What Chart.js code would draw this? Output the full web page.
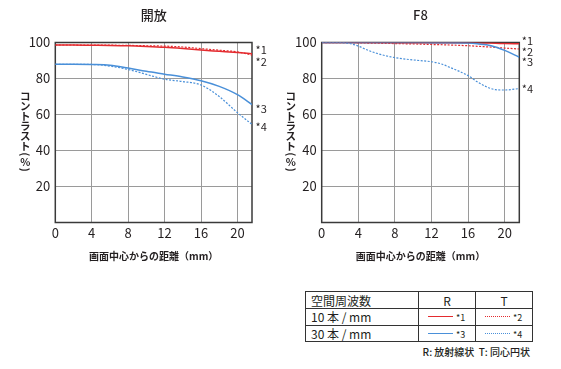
<!DOCTYPE html>
<html><head><meta charset="utf-8">
<script src="https://cdn.jsdelivr.net/npm/chart.js@4"></script>
<style>
body{margin:0;background:#fff;width:561px;height:369px;overflow:hidden;position:relative;font-family:'Noto Sans CJK JP','Noto Sans',sans-serif;color:#231f20}
canvas{position:absolute;top:0}
#c1{left:0}
#c2{left:280px}
#leg{position:absolute;left:305px;top:291px;display:grid;grid-template-columns:113px 57px 57px;grid-template-rows:17px 16.5px 16.5px;border-left:1px solid #333;border-top:1px solid #333;font-size:12px;color:#231f20}
#leg div{box-sizing:border-box;border-right:1px solid #333;border-bottom:1px solid #333;line-height:15px;white-space:nowrap;display:flex;align-items:center}
#leg .c1{padding-left:5px}
#leg .hc{justify-content:center}
#leg .sw{padding-left:9px}
.ln{display:inline-block;width:25px;height:0}
.rs{border-top:1.5px solid #e42b2f}
.rd{border-top:1.2px dotted #e42b2f}
.bs{border-top:1.5px solid #4a90d9}
.bd{border-top:1.2px dotted #4a90d9}
.sm{font-size:9px;margin-left:3px;line-height:9px;margin-top:2px}
#note{position:absolute;right:31px;top:345px;font-size:10px;line-height:14px;font-weight:500}
</style></head><body>
<canvas id="c1" width="280" height="266"></canvas>
<canvas id="c2" width="281" height="266"></canvas>
<div id="leg">
<div class="c1">空間周波数</div><div class="hc">R</div><div class="hc">T</div>
<div class="c1">10 本 / mm</div><div class="sw"><span class="ln rs"></span><span class="sm">*1</span></div><div class="sw"><span class="ln rd"></span><span class="sm">*2</span></div>
<div class="c1">30 本 / mm</div><div class="sw"><span class="ln bs"></span><span class="sm">*3</span></div><div class="sw"><span class="ln bd"></span><span class="sm">*4</span></div>
</div>
<div id="note">R: 放射線状&nbsp;&nbsp;T: 同心円状</div>
<script>
// ---- data ----
const xTicks = [0, 4, 8, 12, 16, 20];
const yTicks = [20, 40, 60, 80, 100];
const seriesLabels = ['*1', '*2', '*3', '*4'];
const chartTitles = ['開放', 'F8'];
const xTitle = '画面中心からの距離（mm）';
const yTitle = 'コントラスト(%)';

const xOpen = [0, 2, 4, 6, 8, 10, 12, 14, 16, 18, 20, 21.6];
const openR10 = [98.6, 98.6, 98.5, 98.4, 98.2, 97.8, 97.3, 96.6, 95.8, 95.1, 94.4, 93.8];
const openT10 = [98.6, 98.6, 98.5, 98.5, 98.4, 98.2, 98.0, 97.5, 96.6, 95.7, 94.8, 93.0];
const openR30 = [87.9, 87.9, 87.8, 87.4, 85.8, 84.0, 82.4, 80.8, 78.7, 75.6, 71.0, 65.5];
const openT30 = [87.9, 87.9, 87.8, 86.9, 85.0, 82.3, 79.6, 78.3, 76.4, 70.0, 61.0, 54.5];

const xF8 = [0, 2, 3, 4, 5, 6, 8, 10, 12, 13, 14, 16, 17, 18, 19, 20, 21.6];
const f8R10 = [100, 100, 100, 100, 100, 100, 99.9, 99.9, 99.9, 99.9, 99.9, 99.8, 99.8, 99.7, 99.6, 99.4, 99.3];
const f8T10 = [100, 99.9, 99.9, 99.8, 99.7, 99.6, 99.4, 99.2, 98.9, 98.8, 98.6, 98.2, 97.9, 97.6, 97.3, 96.9, 96.4];
const f8R30 = [100, 100, 100, 100, 100, 100, 100, 100, 99.9, 99.9, 99.9, 99.7, 99.3, 98.7, 97.5, 95.6, 91.8];
const f8T30 = [100, 100, 99.5, 98.0, 95.8, 94.0, 91.6, 90.3, 89.3, 88.2, 86.2, 81.6, 78.2, 75.4, 73.8, 73.6, 74.4];

// ---- drawing ----
const RED = '#e42b2f', BLUE = '#4a90d9', INK = '#231f20';
const FONT = "'Noto Sans CJK JP','Noto Sans',sans-serif";
const pts = (xs, ys) => xs.map((x, i) => ({x, y: ys[i]}));

const extras = {
  id: 'extras',
  beforeDatasetsDraw(chart) {
    const {ctx, chartArea: a} = chart;
    ctx.save();
    ctx.strokeStyle = '#3a3a3a';
    ctx.lineWidth = 1.5;
    ctx.strokeRect(a.left, a.top, a.right - a.left, a.bottom - a.top);
    ctx.restore();
  },
  afterDraw(chart, args, opts) {
    const {ctx, chartArea: a, scales} = chart;
    ctx.save();
    ctx.fillStyle = INK;
    // vertical y title (upright characters stacked top-to-bottom; brackets turned)
    ctx.font = 'bold 10.5px ' + FONT;
    ctx.textAlign = 'center';
    ctx.textBaseline = 'middle';
    const cx = a.left - opts.titleOffset;
    let y = a.top + 49;
    Array.from(yTitle).forEach(ch => {
      const turned = '（）()'.includes(ch);
      const adv = turned ? 5.5 : 10;
      const c = y + adv / 2;
      if (turned) {
        ctx.save(); ctx.translate(cx, c); ctx.rotate(Math.PI / 2); ctx.fillText(ch, 0, 0); ctx.restore();
      } else ctx.fillText(ch, cx, c);
      y += adv;
    });
    // series tags
    ctx.font = '11px ' + FONT;
    ctx.textAlign = 'left';
    seriesLabels.forEach((t, i) => {
      ctx.fillText(t, a.right + opts.tagGap, scales.y.getPixelForValue(opts.tagY[i]));
    });
    ctx.restore();
  }
};

function makeChart(id, title, xs, r10, t10, r30, t30, yWidth, padRight, extraOpts) {
  const line = (label, d, color, dotted, order) => ({
    label, data: pts(xs, d), borderColor: color,
    borderWidth: dotted ? 1.2 : 1.5, borderDash: dotted ? [2, 1.5] : [],
    pointRadius: 0, fill: false, tension: 0.4, cubicInterpolationMode: 'monotone', order
  });
  return new Chart(document.getElementById(id), {
    type: 'line',
    data: {datasets: [
      line(seriesLabels[0], r10, RED, false, 2),
      line(seriesLabels[1], t10, RED, true, 3),
      line(seriesLabels[2], r30, BLUE, false, 0),
      line(seriesLabels[3], t30, BLUE, true, 1)
    ]},
    options: {
      responsive: false, maintainAspectRatio: false, animation: false,
      layout: {padding: {left: 0, right: padRight, top: 0, bottom: 0}},
      plugins: {
        legend: {display: false}, tooltip: {enabled: false},
        title: {display: true, text: title, fullSize: false, color: INK,
          font: {family: FONT, size: 13, weight: '500'}, padding: {top: 7, bottom: 19.9}},
        extras: extraOpts
      },
      scales: {
        x: {
          type: 'linear', min: 0, max: 21.6,
          afterBuildTicks: s => { s.ticks = xTicks.map(v => ({value: v})); },
          afterFit: s => { s.height = 43.5; },
          grid: {color: '#9a9a9a', lineWidth: 1, drawTicks: false},
          border: {display: false},
          ticks: {padding: 3, color: INK, font: {family: FONT, size: 13}, maxRotation: 0, autoSkip: false},
          title: {display: true, text: xTitle, color: INK, font: {family: FONT, size: 10, weight: 'bold'}, padding: {top: 0, bottom: 4}}
        },
        y: {
          type: 'linear', min: 0, max: 100,
          afterBuildTicks: s => { s.ticks = yTicks.map(v => ({value: v})); },
          afterFit: s => { s.width = yWidth; },
          grid: {color: '#9a9a9a', lineWidth: 1, drawTicks: false},
          border: {display: false},
          ticks: {padding: 5, color: INK, font: {family: FONT, size: 13}, autoSkip: false}
        }
      }
    },
    plugins: [extras]
  });
}

makeChart('c1', chartTitles[0], xOpen, openR10, openT10, openR30, openT30, 55.3, 28,
  {titleOffset: 30, tagGap: 3.5, tagY: [95.8, 89.3, 63.4, 53.1]});
makeChart('c2', chartTitles[1], xF8, f8R10, f8T10, f8R30, f8T30, 41.7, 41.7,
  {titleOffset: 31, tagGap: 2.5, tagY: [100.7, 95.0, 89.1, 74.0]});
</script>
</body></html>
